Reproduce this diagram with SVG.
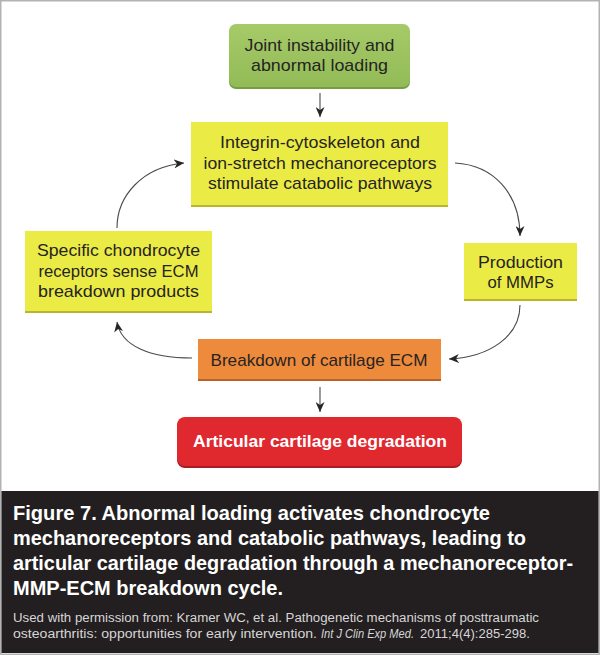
<svg xmlns="http://www.w3.org/2000/svg" width="600" height="655" viewBox="0 0 600 655">
  <defs>
    <linearGradient id="gGreen" x1="0" y1="0" x2="0" y2="1">
      <stop offset="0" stop-color="#a6ca68"/>
      <stop offset="1" stop-color="#92bb57"/>
    </linearGradient>
    <marker id="arr" markerUnits="userSpaceOnUse" markerWidth="11" markerHeight="9" refX="10" refY="4.5" orient="auto" viewBox="0 0 11 9">
      <path d="M0,0 L10,4.5 L0,9 L3,4.5 Z" fill="#262626"/>
    </marker>
    <style>
      .lbl { font-family: "Liberation Sans", Arial, sans-serif; font-size: 17px; fill: #262422; text-anchor: middle; }
      .yel { fill: #ebeb45; }
      .yelb { fill: #b9b52c; }
      .con { fill: none; stroke: #4a4a4a; stroke-width: 1.1; marker-end: url(#arr); }
      .cap { font-family: "Liberation Sans", Arial, sans-serif; font-size: 21px; font-weight: bold; fill: #ffffff; }
      .cred { font-family: "Liberation Sans", Arial, sans-serif; font-size: 12.5px; fill: #d6d6d6; }
    </style>
  </defs>
  <rect x="0" y="0" width="600" height="655" fill="#ffffff"/>
  <rect x="0.75" y="0.75" width="598.5" height="653.5" fill="none" stroke="#b3b3b3" stroke-width="1.5"/>

  <g id="connectors">
    <line class="con" x1="320" y1="93" x2="320" y2="117"/>
    <path class="con" d="M455,163 C493,165 520,193 520,236"/>
    <path class="con" d="M520,305 C520,336 490,357 449,359"/>
    <path class="con" d="M192,358 C150,358 121,346 117,322"/>
    <path class="con" d="M117,228 C117,196 142,167 184,163"/>
    <line class="con" x1="320" y1="387" x2="320" y2="412"/>
  </g>

  <g id="node-joint">
    <rect x="229" y="26" width="181" height="63" rx="7" fill="#739f40"/>
    <rect x="229" y="24" width="181" height="63" rx="7" fill="url(#gGreen)"/>
    <text class="lbl" x="319.5" y="51" textLength="150" lengthAdjust="spacingAndGlyphs">Joint instability and</text>
    <text class="lbl" x="319.5" y="71" textLength="137" lengthAdjust="spacingAndGlyphs">abnormal loading</text>
  </g>

  <g id="node-integrin">
    <rect class="yelb" x="191" y="122" width="257" height="85"/>
    <rect class="yel" x="191" y="122" width="257" height="83"/>
    <text class="lbl" x="320" y="148" textLength="200" lengthAdjust="spacingAndGlyphs">Integrin-cytoskeleton and</text>
    <text class="lbl" x="320" y="169" textLength="233" lengthAdjust="spacingAndGlyphs">ion-stretch mechanoreceptors</text>
    <text class="lbl" x="320" y="189" textLength="224" lengthAdjust="spacingAndGlyphs">stimulate catabolic pathways</text>
  </g>

  <g id="node-specific">
    <rect class="yelb" x="25" y="231" width="187" height="82"/>
    <rect class="yel" x="25" y="231" width="187" height="80"/>
    <text class="lbl" x="118.5" y="256" textLength="163" lengthAdjust="spacingAndGlyphs">Specific chondrocyte</text>
    <text class="lbl" x="118.5" y="277" textLength="160" lengthAdjust="spacingAndGlyphs">receptors sense ECM</text>
    <text class="lbl" x="118.5" y="297" textLength="161" lengthAdjust="spacingAndGlyphs">breakdown products</text>
  </g>

  <g id="node-mmp">
    <rect class="yelb" x="464" y="243" width="113" height="58"/>
    <rect class="yel" x="464" y="243" width="113" height="56"/>
    <text class="lbl" x="520.5" y="268" textLength="85" lengthAdjust="spacingAndGlyphs">Production</text>
    <text class="lbl" x="520.5" y="288" textLength="66" lengthAdjust="spacingAndGlyphs">of MMPs</text>
  </g>

  <g id="node-breakdown">
    <rect x="198" y="339" width="243" height="42" fill="#b9632a"/>
    <rect x="198" y="339" width="243" height="40" fill="#ee8a3c"/>
    <text class="lbl" x="319" y="366" textLength="217" lengthAdjust="spacingAndGlyphs">Breakdown of cartilage ECM</text>
  </g>

  <g id="node-degradation">
    <rect x="177" y="419" width="285" height="49" rx="8" fill="#a81d24"/>
    <rect x="177" y="417" width="285" height="49" rx="8" fill="#e0282f"/>
    <text class="lbl" x="320" y="447" font-weight="bold" style="fill:#ffffff" textLength="254" lengthAdjust="spacingAndGlyphs">Articular cartilage degradation</text>
  </g>

  <g id="caption">
    <rect x="1.5" y="491" width="597" height="162" fill="#231f20"/>
    <text class="cap" x="13" y="520" textLength="477" lengthAdjust="spacingAndGlyphs">Figure 7. Abnormal loading activates chondrocyte</text>
    <text class="cap" x="13" y="545" textLength="513" lengthAdjust="spacingAndGlyphs">mechanoreceptors and catabolic pathways, leading to</text>
    <text class="cap" x="13" y="570" textLength="560" lengthAdjust="spacingAndGlyphs">articular cartilage degradation through a mechanoreceptor-</text>
    <text class="cap" x="13" y="595" textLength="270" lengthAdjust="spacingAndGlyphs">MMP-ECM breakdown cycle.</text>
    <text class="cred" x="13" y="622" textLength="526" lengthAdjust="spacingAndGlyphs">Used with permission from: Kramer WC, et al. Pathogenetic mechanisms of posttraumatic</text>
    <text class="cred" x="13" y="638" textLength="304" lengthAdjust="spacingAndGlyphs">osteoarthritis: opportunities for early intervention.</text>
    <text class="cred" x="321" y="638" font-style="italic" textLength="93" lengthAdjust="spacingAndGlyphs">Int J Clin Exp Med.</text>
    <text class="cred" x="420" y="638" textLength="110" lengthAdjust="spacingAndGlyphs">2011;4(4):285-298.</text>
  </g>
</svg>
